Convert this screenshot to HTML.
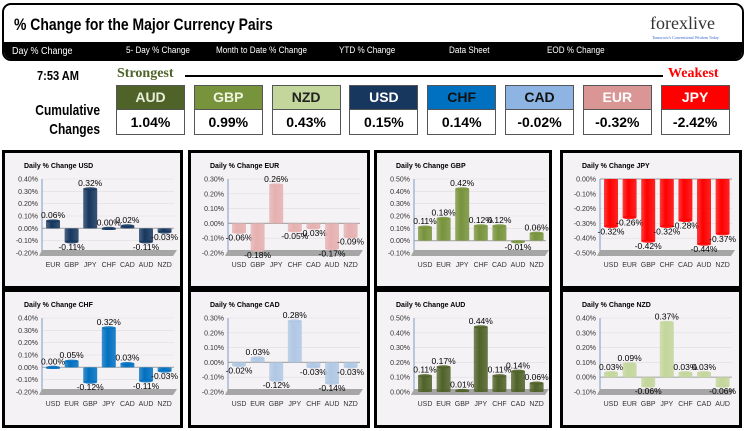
<!DOCTYPE html>
<html><head><meta charset="utf-8">
<style>
body{margin:0;width:747px;height:431px;background:#fff;position:relative;overflow:hidden;font-family:"Liberation Sans",sans-serif}
#hdr{position:absolute;left:2px;top:3px;width:738px;height:54px;border:2px solid #000;border-radius:9px;overflow:hidden;background:#fff}
#title{position:absolute;left:10px;top:10px;font-weight:bold;font-size:17px;transform:scaleX(0.82);transform-origin:left top;white-space:nowrap}
#logo{position:absolute;left:646px;top:8px;font-family:"Liberation Serif",serif;font-size:18px;color:#333}
#logo small{position:absolute;left:2px;top:22px;font-size:4px;color:#36c;white-space:nowrap}
#bar{position:absolute;left:0;top:37px;width:738px;height:17px;background:#000;color:#fff}
#bar span{position:absolute;top:3px;font-size:9px;transform:scaleX(0.9);transform-origin:left top;white-space:nowrap}
.box{position:absolute;top:85px;width:67px;height:48px;border:1px solid #555;background:#fff}
.box .c{height:23px;border-bottom:1px solid #555;text-align:center;font-weight:bold;font-size:14px;line-height:23px}
.box .v{text-align:center;font-weight:bold;font-size:14px;line-height:24px}
.t{position:absolute;font-weight:bold}
</style></head><body>
<div id="hdr">
 <div id="title">% Change for the Major Currency Pairs</div>
 <div id="logo">forexlive<small>Tomorrow's Conventional Wisdom Today</small></div>
 <div id="bar">
  <span style="left:8px;font-size:10px;top:4px">Day % Change</span>
  <span style="left:122px">5- Day % Change</span>
  <span style="left:212px">Month to Date % Change</span>
  <span style="left:335px">YTD % Change</span>
  <span style="left:445px">Data Sheet</span>
  <span style="left:543px">EOD % Change</span>
 </div>
</div>
<div class="t" style="left:37px;top:68px;font-size:13px;transform:scaleX(0.85);transform-origin:left top">7:53 AM</div>
<div class="t" style="left:117px;top:66px;font-size:14px;color:#4f6228;font-family:'Liberation Serif',serif">Strongest</div>
<div style="position:absolute;left:185px;top:75px;width:478px;height:2px;background:#000"></div>
<div class="t" style="left:668px;top:66px;font-size:14px;color:#f00;font-family:'Liberation Serif',serif">Weakest</div>
<div class="t" style="left:16px;top:101px;font-size:15px;text-align:right;width:84px;line-height:19px;transform:scaleX(0.8);transform-origin:right top">Cumulative Changes</div>
<div id="boxes"></div>
<svg id="svg" width="747" height="431" style="position:absolute;left:0;top:0"></svg>
<script>
const boxCurr=["AUD","GBP","NZD","USD","CHF","CAD","EUR","JPY"];
const boxVals=["1.04%","0.99%","0.43%","0.15%","0.14%","-0.02%","-0.32%","-2.42%"];
const boxBg=["#4f6228","#77933c","#c3d69b","#17375e","#0070c0","#8db4e2","#da9694","#ff0000"];
const boxFg=["#e8eed8","#f0f4e0","#222","#fff","#111","#111","#fff","#fff"];
const bx=document.getElementById('boxes');
boxCurr.forEach((c,i)=>{
 const d=document.createElement('div');d.className='box';d.style.left=(116+i*77.8)+'px';
 
 
 d.innerHTML='<div class="c" style="background:'+boxBg[i]+';color:'+boxFg[i]+'">'+c+'</div><div class="v">'+boxVals[i]+'</div>';
 bx.appendChild(d);
});

const usdCats=["EUR","GBP","JPY","CHF","CAD","AUD","NZD"];
const usdVals=[0.06,-0.11,0.32,0.00,0.02,-0.11,-0.03];
const usdTicks=[0.4,0.3,0.2,0.1,0,-0.1,-0.2];
const eurCats=["USD","GBP","JPY","CHF","CAD","AUD","NZD"];
const eurVals=[-0.06,-0.18,0.26,-0.05,-0.03,-0.17,-0.09];
const eurTicks=[0.3,0.2,0.1,0,-0.1,-0.2];
const gbpCats=["USD","EUR","JPY","CHF","CAD","AUD","NZD"];
const gbpVals=[0.11,0.18,0.42,0.12,0.12,-0.01,0.06];
const gbpTicks=[0.5,0.4,0.3,0.2,0.1,0,-0.1];
const jpyCats=["USD","EUR","GBP","CHF","CAD","AUD","NZD"];
const jpyVals=[-0.32,-0.26,-0.42,-0.32,-0.28,-0.44,-0.37];
const jpyTicks=[0,-0.1,-0.2,-0.3,-0.4,-0.5];
const chfCats=["USD","EUR","GBP","JPY","CAD","AUD","NZD"];
const chfVals=[0.00,0.05,-0.12,0.32,0.03,-0.11,-0.03];
const chfTicks=[0.4,0.3,0.2,0.1,0,-0.1,-0.2];
const cadCats=["USD","EUR","GBP","JPY","CHF","AUD","NZD"];
const cadVals=[-0.02,0.03,-0.12,0.28,-0.03,-0.14,-0.03];
const cadTicks=[0.3,0.2,0.1,0,-0.1,-0.2];
const audCats=["USD","EUR","GBP","JPY","CHF","CAD","NZD"];
const audVals=[0.11,0.17,0.01,0.44,0.11,0.14,0.06];
const audTicks=[0.5,0.4,0.3,0.2,0.1,0];
const nzdCats=["USD","EUR","GBP","JPY","CHF","CAD","AUD"];
const nzdVals=[0.03,0.09,-0.06,0.37,0.03,0.03,-0.06];
const nzdTicks=[0.4,0.3,0.2,0.1,0,-0.1];

const NS='http://www.w3.org/2000/svg';
const svg=document.getElementById('svg');
function el(t,a,p){const e=document.createElementNS(NS,t);for(const k in a)e.setAttribute(k,a[k]);(p||svg).appendChild(e);return e;}
const defs=el('defs',{});
const charts=[
 ["USD",usdCats,usdVals,usdTicks,2,150,183,"#17375e"],
 ["EUR",eurCats,eurVals,eurTicks,188,150,370,"#e6b0b0"],
 ["GBP",gbpCats,gbpVals,gbpTicks,374,150,552,"#77933c"],
 ["JPY",jpyCats,jpyVals,jpyTicks,560,150,742,"#ff0000"],
 ["CHF",chfCats,chfVals,chfTicks,2,289,183,"#0070c0"],
 ["CAD",cadCats,cadVals,cadTicks,188,289,370,"#b0c8e4"],
 ["AUD",audCats,audVals,audTicks,374,289,552,"#4f6228"],
 ["NZD",nzdCats,nzdVals,nzdTicks,560,289,742,"#c3d69b"]];
charts.forEach((c,ci)=>{
 const [name,cats,vals,ticks,x0,y0,x1,col]=c;
 const g=el('g',{});
 
 
 const gr=el('linearGradient',{id:'g'+ci,x1:0,x2:1,y1:0,y2:0},defs);
 el('stop',{offset:0,'stop-color':col,'stop-opacity':0.75},gr);
 el('stop',{offset:0.4,'stop-color':col},gr);
 el('stop',{offset:1,'stop-color':col,'stop-opacity':0.85},gr);
 const bot=y0+139;
 const pr=el('rect',{x:x0+1.5,y:y0+1.5,width:x1-x0-3,height:bot-y0-3,fill:'#f5f2f5',stroke:'#000','stroke-width':3},g);
 
 const tt=el('text',{x:x0+22,y:y0+18,'font-size':7,'font-weight':'bold','font-family':'Liberation Sans, sans-serif'},g);
 tt.textContent='Daily % Change '+name;
 
 const top=y0+29, bt=y0+103;
 const tmax=ticks[0], tmin=ticks[ticks.length-1];
 const Y=v=>top+(tmax-v)/(tmax-tmin)*(bt-top);
 const px0=x0+40, px1=x0+172;
 ticks.forEach(t=>{
  el('line',{x1:px0,x2:px1,y1:Y(t),y2:Y(t),stroke:t===0?'#aaa':'#e0dde0','stroke-width':t===0?1.2:0.6},g);
  const l=el('text',{x:x0+36,y:Y(t)+2.5,'font-size':7,'text-anchor':'end',fill:'#333','font-family':'Liberation Sans, sans-serif'},g);
  l.textContent=t.toFixed(2)+'%';
  
 });
 el('line',{x1:px0,x2:px0,y1:top,y2:bt,stroke:'#7a9cc8','stroke-width':1},g);
 el('polygon',{points:[px0,bt-3,px1+3,bt-3,px1-1,bt+3,px0-3,bt+3].join(' '),fill:'#a6a6a6'},g);
 const X=i=>x0+51+i*18.6;
 cats.forEach((k,i)=>{
  const v=vals[i], yz=Y(0), yv=Y(v);
  const yt=Math.min(yz,yv), h=Math.max(Math.abs(yv-yz),1.5);
  const b=el('rect',{x:X(i)-7,y:yt,width:14,height:h,rx:1,fill:'url(#g'+ci+')'},g);
  
  
  el('ellipse',{cx:X(i),cy:yv,rx:7,ry:1.6,fill:col,opacity:0.9},g);
  const lb=el('text',{x:X(i),y:v>=0?yv-3:yv+8,'font-size':8.5,'text-anchor':'middle','font-family':'Liberation Sans, sans-serif'},g);
  lb.textContent=v.toFixed(2)+'%';
  
  const cl=el('text',{x:X(i),y:bt+14,'font-size':7,'text-anchor':'middle',fill:'#333','font-family':'Liberation Sans, sans-serif'},g);
  cl.textContent=k;
  
 });
});
</script>
</body></html>
